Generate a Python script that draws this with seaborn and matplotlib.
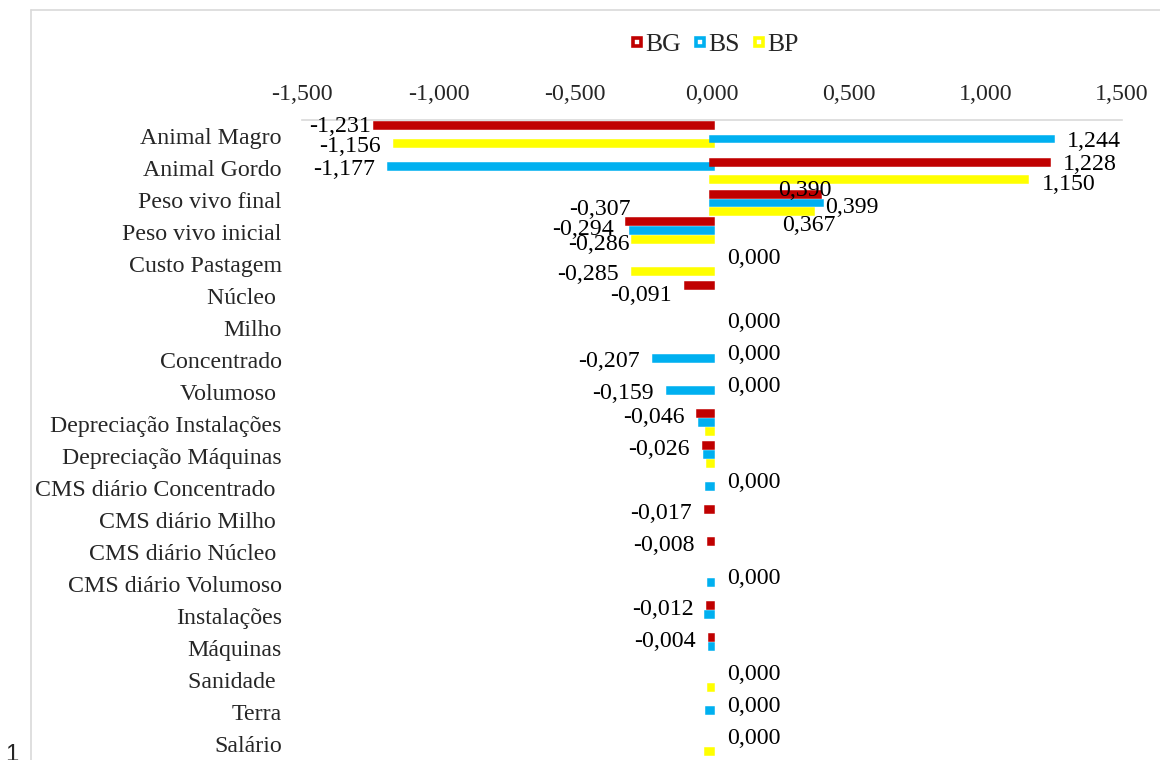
import numpy as np
import pandas as pd
import matplotlib
matplotlib.use("Agg")
import matplotlib.pyplot as plt
from matplotlib.lines import Line2D
import seaborn as sns

# ---------------- data ----------------
categories = ["Animal Magro", "Animal Gordo", "Peso vivo final", "Peso vivo inicial",
              "Custo Pastagem", "Núcleo ", "Milho", "Concentrado", "Volumoso ",
              "Depreciação Instalações", "Depreciação Máquinas",
              "CMS diário Concentrado ", "CMS diário Milho ", "CMS diário Núcleo ",
              "CMS diário Volumoso", "Instalações", "Máquinas", "Sanidade ",
              "Terra", "Salário"]
series = ["BG", "BS", "BP"]
bg = [-1.231, 1.228, 0.390, -0.307, 0.000, -0.091, 0.000, 0.000, 0.000, -0.046,
      -0.026, 0.000, -0.017, -0.008, 0.000, -0.012, -0.004, 0.000, 0.000, 0.000]
bs = [1.244, -1.177, 0.399, -0.294, 0.000, 0.000, 0.000, -0.207, -0.159, -0.042,
      -0.021, -0.013, 0.000, 0.000, -0.009, -0.020, -0.004, 0.000, -0.015, 0.000]
bp = [-1.156, 1.150, 0.367, -0.286, -0.285, 0.000, 0.000, 0.000, 0.000, -0.013,
      -0.012, 0.000, 0.000, 0.000, 0.000, 0.000, 0.000, -0.009, 0.000, -0.020]
colors = ["#C00000", "#00B0F0", "#FFFF00"]
x_ticks = [-1.5, -1.0, -0.5, 0.0, 0.5, 1.0, 1.5]

values = {"BG": bg, "BS": bs, "BP": bp}

def fmt(v):
    s = f"{v:.3f}".replace(".", ",")
    return "0,000" if s == "-0,000" else s

rows = []
for s in series:
    for c, v in zip(categories, values[s]):
        rows.append({"category": c, "series": s, "value": v})
df = pd.DataFrame(rows)
df["neg"] = df["value"].where(df["value"] < 0, 0.0)
df["pos"] = df["value"].where(df["value"] >= 0, 0.0)

# hand-placed data labels in the original (offsets in points: dx, dy)
label_nudge = {("BG", 0): (7.5, 1.5), ("BS", 0): (0, -2), ("BG", 1): (0, -1.5),
               ("BP", 1): (0, -3.5),
               ("BG", 2): (-40, 3), ("BS", 2): (-8, -3), ("BP", 2): (-33, -10),
               ("BG", 3): (13, 11.5), ("BS", 3): (-2, 3), ("BP", 3): (8, -2),
               ("BG", 5): (0, -4.5)}
NEG_LABEL_DY = -2.2   # negative-side labels sit a little lower in the original

# ---------------- style ----------------
sns.set_theme(style="white")
plt.rcParams["font.family"] = ["Liberation Serif", "DejaVu Serif"]
FS = 17.2
GRAY = "#D9D9D9"

W, H = 1160, 760
fig = plt.figure(figsize=(W / 100, H / 100), dpi=100)
L, R, T, B = 302, 1122, 120, 760
rect = [L / W, 1 - B / H, (R - L) / W, (B - T) / H]
ax = fig.add_axes(rect)
ax_neg = fig.add_axes(rect)
ax_pos = fig.add_axes(rect)

for a, col in ((ax_neg, "neg"), (ax_pos, "pos")):
    sns.barplot(data=df, x=col, y="category", hue="series", order=categories,
                hue_order=series, palette=colors, saturation=1, width=0.8,
                gap=0.65, orient="h", legend=False, errorbar=None, ax=a)
    for p in a.patches:
        p.set_edgecolor(p.get_facecolor())
        p.set_linewidth(4.0 if p.get_width() != 0 else 0)

# data labels
for a, side in ((ax_neg, "neg"), (ax_pos, "pos")):
    for cont, s in zip(a.containers, series):
        labs = []
        for v in values[s]:
            show = (s == "BG") or abs(v) >= 0.1
            on_side = (v < 0) if side == "neg" else (v >= 0)
            labs.append(fmt(v) if (show and on_side) else "")
        anns = a.bar_label(cont, labels=labs, padding=11, fontsize=FS, color="black")
        for i, ann in enumerate(anns):
            if not labs[i]:
                continue
            dx, dy = label_nudge.get((s, i), (0, 0))
            if side == "neg":
                dy += NEG_LABEL_DY
            ox, oy = ann.xyann
            ann.xyann = (ox + dx, oy + dy)

n = len(categories)
for a in (ax, ax_neg, ax_pos):
    a.set_xlim(x_ticks[0], x_ticks[-1])
ax.set_ylim(n - 0.5, -0.5)
ax_neg.set_ylim(n - 0.5 + 1.5 / 32, -0.5 + 1.5 / 32)
ax_pos.set_ylim(n - 0.5 - 3.0 / 32, -0.5 - 3.0 / 32)
ax_neg.axis("off")
ax_pos.axis("off")

ax.set_yticks(range(n))
ax.set_yticklabels(categories, fontsize=FS)
ax.xaxis.tick_top()
ax.set_xticks(x_ticks)
ax.set_xticklabels([fmt(v) for v in x_ticks], fontsize=FS)
ax.tick_params(axis="both", length=0)
ax.tick_params(axis="y", pad=14.5)
ax.tick_params(axis="x", pad=11)
ax.set_xlabel("")
ax.set_ylabel("")
for sp in ("left", "right", "bottom"):
    ax.spines[sp].set_visible(False)
ax.spines["top"].set_color(GRAY)
ax.spines["top"].set_linewidth(1.2)

# legend
handles = [Line2D([], [], linestyle="none", marker="s", markersize=5.4,
                  markerfacecolor="white", markeredgecolor=c, markeredgewidth=2.6)
           for c in colors]
fig.legend(handles, series, loc="center", bbox_to_anchor=(715 / W, 1 - 45 / H),
           ncol=3, frameon=False, fontsize=18.5, handlelength=0.45,
           handletextpad=0.1, columnspacing=0.5, borderpad=0, borderaxespad=0)

# chart-area border and page number
fig.add_artist(Line2D([31 / W, 1], [1 - 10 / H, 1 - 10 / H], color=GRAY, lw=1.2))
fig.add_artist(Line2D([31 / W, 31 / W], [0, 1 - 10 / H], color=GRAY, lw=1.2))
fig.text(12 / W, 1 - 744 / H, "1", fontsize=FS, family="Liberation Sans",
         va="top", ha="center")

fig.savefig("out.png", dpi=100)
